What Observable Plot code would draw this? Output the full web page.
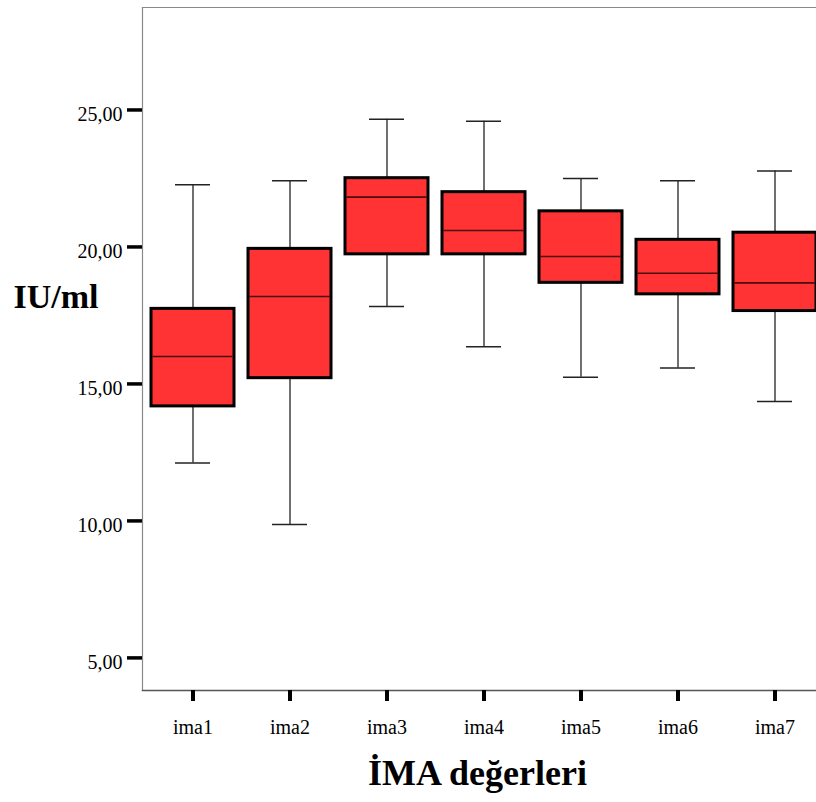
<!DOCTYPE html>
<html>
<head>
<meta charset="utf-8">
<script src="https://cdn.jsdelivr.net/npm/d3@7"></script>
<script src="https://cdn.jsdelivr.net/npm/@observablehq/plot@0.6"></script>
<style>
  html, body { margin: 0; padding: 0; background: white; }
</style>
</head>
<body>
<div id="chart"></div>
<script>
const categories = ["ima1", "ima2", "ima3", "ima4", "ima5", "ima6", "ima7"];
const whiskerLow  = [12.11,  9.87, 17.83, 16.36, 15.24, 15.58, 14.36];
const q1          = [14.18, 15.21, 19.73, 19.73, 18.69, 18.27, 17.66];
const median      = [16.00, 18.19, 21.82, 20.60, 19.65, 19.04, 18.69];
const q3          = [17.74, 19.93, 22.51, 22.00, 21.30, 20.26, 20.52];
const whiskerHigh = [22.27, 22.42, 24.66, 24.59, 22.50, 22.42, 22.77];
const yTicks = [5, 10, 15, 20, 25];
const yTitle = "IU/ml";
const xTitle = "İMA değerleri";

const data = categories.map((c, i) => ({
  cat: c, lo: whiskerLow[i], q1: q1[i], med: median[i], q3: q3[i], hi: whiskerHigh[i]
}));
const fmt = d => d.toFixed(2).replace(".", ",");
const blank = () => "";

const chart = Plot.plot({
  width: 816,
  height: 802,
  marginLeft: 142,
  marginRight: 0,
  marginTop: 7,
  marginBottom: 112,
  style: { fontFamily: "'Liberation Serif', 'Times New Roman', serif", background: "white", color: "black" },
  x: { domain: categories, range: [142, 824.5], paddingInner: 0.14, paddingOuter: 0.07, axis: null },
  y: { domain: [3.81, 28.74], axis: null },
  marks: [
    Plot.frame({ anchor: "left", stroke: "#8a8a8a", strokeWidth: 1.2 }),
    Plot.frame({ anchor: "top", stroke: "#8a8a8a", strokeWidth: 1.2 }),
    Plot.frame({ anchor: "bottom", stroke: "#555", strokeWidth: 1.4 }),
    // y axis ticks and labels
    Plot.axisY({ ticks: yTicks, tickSize: 15, strokeWidth: 3.5, stroke: "black", tickFormat: blank, label: null }),
    Plot.axisY({ ticks: yTicks, tickSize: 0, tickPadding: 20, dy: 5, fontSize: 20, tickFormat: fmt, label: null }),
    // x axis ticks and labels
    Plot.axisX({ tickSize: 11, strokeWidth: 4, stroke: "black", tickFormat: blank, label: null }),
    Plot.axisX({ tickSize: 0, tickPadding: 29, fontSize: 20, label: null }),
    // whiskers
    Plot.ruleX(data, { x: "cat", y1: "lo", y2: "hi", stroke: "#222", strokeWidth: 1.3 }),
    Plot.tickY(data, { x: "cat", y: "lo", stroke: "#222", strokeWidth: 1.5, insetLeft: 24, insetRight: 24 }),
    Plot.tickY(data, { x: "cat", y: "hi", stroke: "#222", strokeWidth: 1.5, insetLeft: 24, insetRight: 24 }),
    // boxes
    Plot.barY(data, { x: "cat", y1: "q1", y2: "q3", fill: "#ff3333", stroke: "black", strokeWidth: 3 }),
    Plot.tickY(data, { x: "cat", y: "med", stroke: "#4a0c0c", strokeWidth: 1.6, insetLeft: 1.5, insetRight: 1.5 }),
    // titles
    Plot.text([yTitle], { frameAnchor: "left", textAnchor: "start", dx: -129, dy: -52, fontSize: 34, fontWeight: "bold", text: d => d }),
    Plot.text([xTitle], { frameAnchor: "bottom", dx: -2, dy: 94, fontSize: 36, fontWeight: "bold", text: d => d })
  ]
});
document.getElementById("chart").appendChild(chart);
</script>
</body>
</html>
